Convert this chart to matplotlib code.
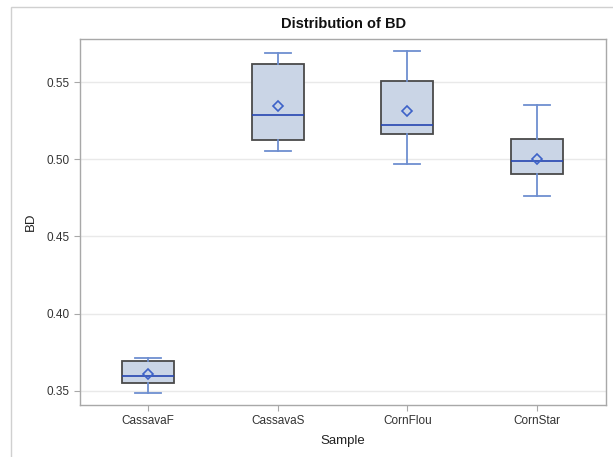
import matplotlib
matplotlib.use("Agg")
import matplotlib.pyplot as plt
from matplotlib.patches import Rectangle

samples = ["CassavaF", "CassavaS", "CornFlou", "CornStar"]
whisker_low = [0.3483, 0.5053, 0.4971, 0.4761]
q1 = [0.3552, 0.5122, 0.5161, 0.4901]
median = [0.3593, 0.5284, 0.5222, 0.4988]
mean = [0.3608, 0.5345, 0.5312, 0.5003]
q3 = [0.3694, 0.5619, 0.5508, 0.5129]
whisker_high = [0.3712, 0.5688, 0.5699, 0.5349]
y_ticks = [0.35, 0.40, 0.45, 0.50, 0.55]

plt.rcParams["font.family"] = ["Liberation Sans", "DejaVu Sans"]

W, H = 613, 457
fig = plt.figure(figsize=(W / 100, H / 100), dpi=100)
# outer graph frame
fig.patches.append(Rectangle((10.5 / W, -0.05), 1.0, (H - 6.5) / H + 0.05,
                             transform=fig.transFigure, fill=False,
                             edgecolor="#d0d0d0", lw=1.0))

ax = fig.add_axes([80.3 / W, 1 - 404.7 / H, (606 - 80.3) / W, (404.7 - 39) / H])

stats = []
for i, s in enumerate(samples):
    stats.append(dict(label=s, whislo=whisker_low[i], q1=q1[i], med=median[i],
                      mean=mean[i], q3=q3[i], whishi=whisker_high[i], fliers=[]))

ax.bxp(stats, positions=range(len(samples)), widths=0.40, showmeans=True,
       patch_artist=True,
       boxprops=dict(facecolor="#cad5e6", edgecolor="#4a4a4a", lw=1.3),
       medianprops=dict(color="#2645b0", lw=1.2),
       whiskerprops=dict(color="#6e8fd0", lw=1.3),
       capprops=dict(color="#6e8fd0", lw=1.3),
       capwidths=0.2,
       meanprops=dict(marker="D", markersize=5.5, markerfacecolor="none",
                      markeredgecolor="#3d62c8", markeredgewidth=1.2),
       zorder=3)

ax.set_xlim(-0.522, 3.531)
ax.set_ylim(0.3409, 0.5779)
ax.set_yticks(y_ticks)
ax.set_yticklabels([f"{v:.2f}" for v in y_ticks])
ax.grid(axis="y", color="#e9e9e9", lw=1.0, zorder=0)
ax.set_axisbelow(True)
for sp in ax.spines.values():
    sp.set_color("#a8a8a8")
    sp.set_linewidth(1.0)
ax.tick_params(colors="#a8a8a8", labelcolor="#333333", labelsize=8.5, length=4, width=0.8)

ax.set_xlabel("Sample", fontsize=9.5, color="#222222", labelpad=6)
ax.set_ylabel("BD", fontsize=9.5, color="#222222", labelpad=7)
fig.text((80.3 + 606) / 2 / W, 1 - 24 / H, "Distribution of BD", ha="center",
         va="center", fontsize=10.5, fontweight="bold", color="#111111")

fig.savefig("out.png", dpi=100)
